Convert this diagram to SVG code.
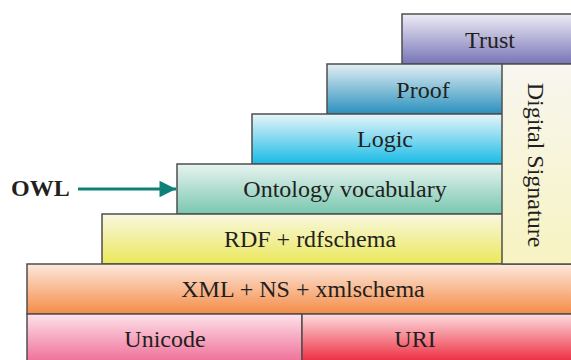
<svg xmlns="http://www.w3.org/2000/svg" width="571" height="360" viewBox="0 0 571 360">
<style>
.box{stroke:#4f4f4f;stroke-width:1.5}
.t{font-family:"Liberation Serif","Times New Roman",serif;font-size:24px;fill:#231f20;text-anchor:middle}
.owl{font-family:"Liberation Serif","Times New Roman",serif;font-size:24px;font-weight:bold;fill:#231f20}
.conn{stroke:#0e8078;stroke-width:3;fill:none}
</style>
<defs>
<linearGradient id="gTrust" x1="0" y1="0" x2="0" y2="1"><stop offset="0" stop-color="#eeecf6"/><stop offset="1" stop-color="#7775b6"/></linearGradient>
<linearGradient id="gProof" x1="0" y1="0" x2="0" y2="1"><stop offset="0" stop-color="#e2eff3"/><stop offset="1" stop-color="#2a90bd"/></linearGradient>
<linearGradient id="gLogic" x1="0" y1="0" x2="0" y2="1"><stop offset="0" stop-color="#e8f5f9"/><stop offset="1" stop-color="#18bbe6"/></linearGradient>
<linearGradient id="gOnto" x1="0" y1="0" x2="0" y2="1"><stop offset="0" stop-color="#e8f4f0"/><stop offset="1" stop-color="#79c7b0"/></linearGradient>
<linearGradient id="gRdf" x1="0" y1="0" x2="0" y2="1"><stop offset="0" stop-color="#f9f7e0"/><stop offset="1" stop-color="#ebe85a"/></linearGradient>
<linearGradient id="gXml" x1="0" y1="0" x2="0" y2="1"><stop offset="0" stop-color="#fde8de"/><stop offset="1" stop-color="#f48c46"/></linearGradient>
<linearGradient id="gUni" x1="0" y1="0" x2="0" y2="1"><stop offset="0" stop-color="#fde2ea"/><stop offset="1" stop-color="#ef6a94"/></linearGradient>
<linearGradient id="gUri" x1="0" y1="0" x2="0" y2="1"><stop offset="0" stop-color="#fcdcdf"/><stop offset="1" stop-color="#ed2438"/></linearGradient>
<linearGradient id="gSig" x1="0" y1="0" x2="0" y2="1"><stop offset="0" stop-color="#f8f6f0"/><stop offset="1" stop-color="#f7f3c2"/></linearGradient>
<marker id="ah" viewBox="0 0 10 10" refX="10" refY="5" markerWidth="7.5" markerHeight="5.5" orient="auto" markerUnits="strokeWidth"><path d="M0,0 L10,5 L0,10 z" fill="#0e8078"/></marker>
</defs>
<g id="trust"><rect class="box" x="402" y="14" width="172" height="50" fill="url(#gTrust)"/><text class="t" x="490" y="48">Trust</text></g>
<g id="proof"><rect class="box" x="327" y="64" width="176" height="50" fill="url(#gProof)"/><text class="t" x="423" y="98">Proof</text></g>
<g id="logic"><rect class="box" x="252" y="114" width="251" height="50" fill="url(#gLogic)"/><text class="t" x="385" y="147">Logic</text></g>
<g id="ontology"><rect class="box" x="177" y="164" width="326" height="50" fill="url(#gOnto)"/><text class="t" x="345" y="197">Ontology vocabulary</text></g>
<g id="rdf"><rect class="box" x="102" y="214" width="401" height="50" fill="url(#gRdf)"/><text class="t" x="310" y="247">RDF + rdfschema</text></g>
<g id="xml"><rect class="box" x="27" y="264" width="547" height="50" fill="url(#gXml)"/><text class="t" x="303" y="297">XML + NS + xmlschema</text></g>
<g id="unicode"><rect class="box" x="27" y="314" width="275" height="50" fill="url(#gUni)"/><text class="t" x="165" y="347">Unicode</text></g>
<g id="uri"><rect class="box" x="302" y="314" width="272" height="50" fill="url(#gUri)"/><text class="t" x="415" y="347">URI</text></g>
<g id="signature"><rect class="box" x="502" y="64" width="72" height="200" fill="url(#gSig)"/><text class="t" transform="translate(528,165) rotate(90)">Digital Signature</text></g>
<g id="owl"><text class="owl" x="11" y="196">OWL</text></g>
<g id="connectors"><line class="conn" x1="78" y1="189" x2="176" y2="189" marker-end="url(#ah)"/></g>
</svg>
